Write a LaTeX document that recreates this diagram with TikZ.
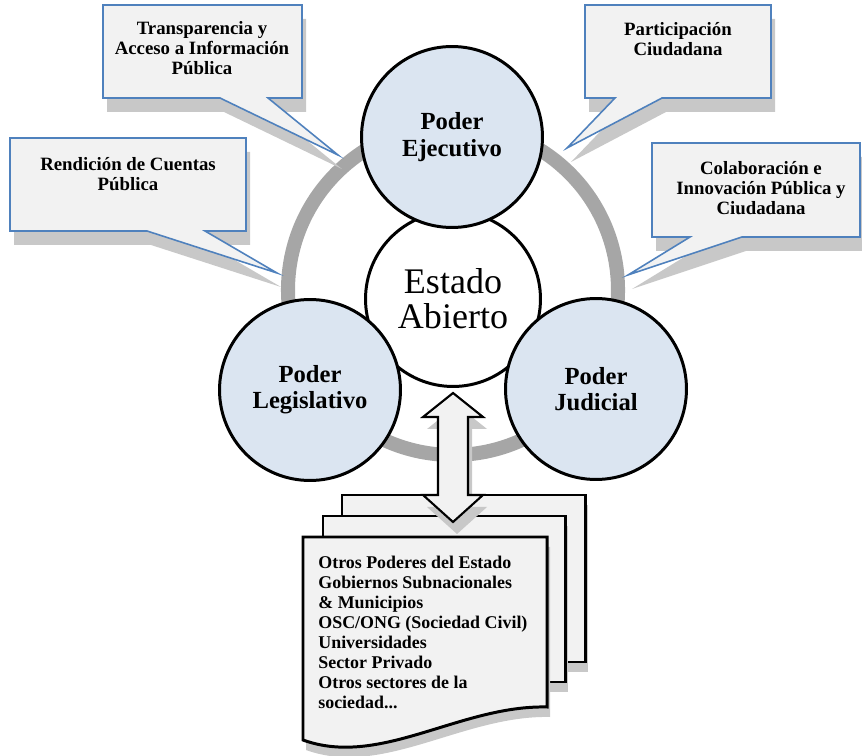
\documentclass[tikz,border=0pt]{standalone}
\usepackage{fontspec}
\setmainfont{Liberation Serif}

\definecolor{poderfill}{HTML}{DBE5F1}
\definecolor{paperfill}{HTML}{F2F2F2}
\definecolor{callline}{HTML}{4F81BD}
\definecolor{ringgray}{HTML}{A6A6A6}
\definecolor{shadowgray}{HTML}{C8C8C8}

\begin{document}
\begin{tikzpicture}[
    x=0.02cm, y=-0.02cm,
    poder/.style={circle, draw, line width=1.7pt, fill=poderfill, minimum size=3.62cm,
        inner sep=0pt, align=center, font=\bfseries\fontsize{14}{15}\selectfont},
    estado/.style={circle, draw, line width=1.7pt, fill=white, minimum size=3.5cm,
        inner sep=0pt, align=center, font=\fontsize{20.5}{20}\selectfont},
    callbox/.style={fill=paperfill, draw=callline, line width=0.9pt},
    callshadow/.style={fill=shadowgray, shift={(4,14)}},
    calltext/.style={anchor=north, align=center, inner sep=0pt,
        font=\bfseries\fontsize{10.7}{11.5}\selectfont},
    page/.style={fill=paperfill, draw, line width=1.7pt},
    pageshadow/.style={fill=shadowgray, shift={(3,10)}},
    doctext/.style={anchor=north west, align=left, inner sep=0pt,
        font=\bfseries\fontsize{10.2}{11.4}\selectfont}
    ]
    \useasboundingbox (0,0) rectangle (862,756);

    \draw[ringgray, line width=8pt] (453,290) circle (165);

    \foreach \l/\t/\r/\b/\pa/\pb/\tx/\ty in {103/5/302/98/220/268/338/155,
        585/5/771/98/615/662/567/148, 10/138/246/231/147/205/277/273,
        652/143/860/237/690/742/628/275}{
        \fill[callshadow] (\l,\t) -- (\r,\t) -- (\r,\b) -- (\pb,\b) -- (\tx,\ty)
            -- (\pa,\b) -- (\l,\b) -- cycle;
        \draw[callbox] (\l,\t) -- (\r,\t) -- (\r,\b) -- (\pb,\b) -- (\tx,\ty)
            -- (\pa,\b) -- (\l,\b) -- cycle;
    }
    \node[calltext] (transp) at (202,21) {Transparencia y\\Acceso a Información\\Pública};
    \node[calltext] (partic) at (678,22) {Participación\\Ciudadana};
    \node[calltext] (rendic) at (128,157) {Rendición de Cuentas\\Pública};
    \node[calltext] (colab) at (761,161) {Colaboración e\\Innovación Pública y\\Ciudadana};

    \node[estado] (ea) at (453,299) {Estado\\Abierto};
    \node[poder] (pe) at (452,137) {Poder\\Ejecutivo};
    \node[poder] (pl) at (310,390) {Poder\\Legislativo};
    \node[poder] (pj) at (596,389) {Poder\\Judicial};

    \fill[pageshadow] (342,495) rectangle (585,662);
    \draw[page] (342,495) rectangle (585,662);
    \fill[pageshadow] (323,516) rectangle (565,682);
    \draw[page] (323,516) rectangle (565,682);
    \fill[pageshadow] (303,537) -- (547,537) -- (547,707)
        .. controls (460,705) and (380,768) .. (303,740) -- cycle;
    \draw[page] (303,537) -- (547,537) -- (547,707)
        .. controls (460,705) and (380,768) .. (303,740) -- cycle;
    \node[doctext] (otros) at (318,556) {Otros Poderes del Estado\\Gobiernos Subnacionales\\
        \& Municipios\\OSC/ONG (Sociedad Civil)\\Universidades\\Sector Privado\\
        Otros sectores de la\\sociedad...};

    \fill[shadowgray, shift={(4,12)}] (453,393) -- (483,417) -- (468,417) -- (468,495)
        -- (483,495) -- (453,522) -- (423,495) -- (438,495) -- (438,417) -- (423,417) -- cycle;
    \draw[fill=paperfill, line width=1.2pt] (453,393) -- (483,417) -- (468,417) -- (468,495)
        -- (483,495) -- (453,522) -- (423,495) -- (438,495) -- (438,417) -- (423,417) -- cycle;
\end{tikzpicture}
\end{document}
